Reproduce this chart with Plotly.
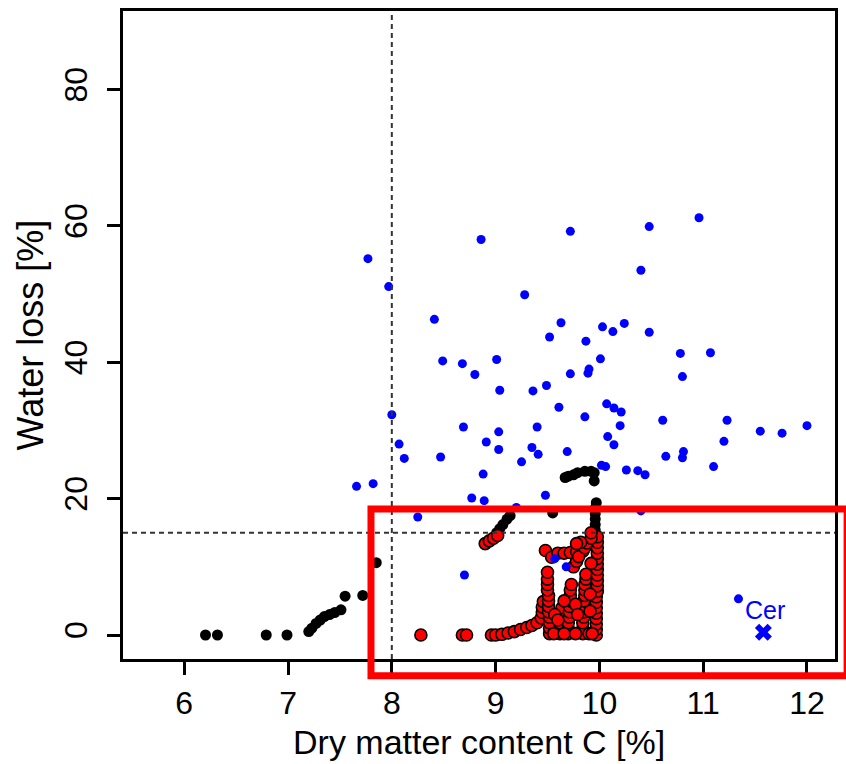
import plotly.graph_objects as go

# Samples above the water-loss threshold (blue)
blue_x = [7.77, 8.86, 9.72, 7.97, 9.28, 8.41, 9.63, 10.03, 10.13, 10.24,
          9.52, 9.87, 8.49, 8.68, 9.01, 8.80, 10.01, 9.72, 9.90, 9.89,
          9.04, 9.36, 9.49, 9.61, 9.86, 10.07, 10.14, 10.21, 8.00, 8.69,
          9.03, 9.40, 10.20, 8.07, 8.91, 9.03, 9.35, 9.41, 9.69, 10.08,
          10.14, 8.12, 8.47, 9.25, 8.88, 10.02, 10.06, 10.26, 7.66, 7.82,
          9.48, 8.77, 8.89, 8.25, 9.20, 10.96, 10.48, 10.40, 10.48, 10.78,
          11.07, 10.80, 10.61, 11.23, 11.55, 11.76, 12.00, 11.20, 10.64, 10.81,
          10.80, 10.37, 10.44, 11.10, 10.40, 8.70, 9.57, 9.68, 11.34]
blue_y = [55.2, 58.0, 59.2, 51.1, 49.9, 46.3, 45.8, 45.2, 44.5, 45.7,
          43.7, 43.1, 40.2, 39.8, 40.4, 38.2, 40.5, 38.3, 39.0, 38.4,
          35.9, 35.8, 36.6, 33.4, 32.0, 33.9, 33.3, 32.7, 32.3, 30.5,
          29.8, 30.5, 30.7, 28.0, 28.3, 27.2, 27.5, 26.5, 26.9, 29.1,
          27.9, 25.9, 26.1, 25.4, 23.6, 24.9, 24.7, 24.2, 21.8, 22.2,
          20.5, 20.1, 19.7, 17.3, 18.7, 61.2, 59.9, 53.5, 44.4, 41.3,
          41.4, 37.9, 31.5, 31.5, 29.9, 29.6, 30.7, 28.4, 26.2, 26.9,
          26.0, 24.1, 23.5, 24.7, 18.2, 8.8, 11.2, 10.0, 5.3]

# Drying trajectories (black)
black_x = [6.205, 6.32, 6.79, 6.99, 7.20, 7.23, 7.27, 7.31, 7.35, 7.40,
           7.45, 7.51, 7.55, 7.72, 7.85,
           9.01, 9.04, 9.07, 9.11, 9.14, 9.55,
           9.67, 9.70, 9.75, 9.79, 9.86, 9.92, 9.95, 9.95,
           9.97, 9.96, 9.96, 9.96, 9.96, 9.96]
black_y = [0.0, 0.0, 0.0, 0.0, 0.5, 1.0, 1.7, 2.2, 2.7, 3.0,
           3.3, 3.7, 5.7, 5.8, 10.6,
           15.0, 15.6, 16.2, 17.0, 17.5, 17.9,
           23.1, 23.3, 23.5, 23.8, 24.0, 24.0, 23.8, 22.6,
           19.4, 18.6, 17.8, 17.0, 16.2, 15.4]

# Selected samples (red, outlined)
red_x = [8.28, 8.68, 8.72, 8.96, 9.00,
         8.90, 8.94, 8.98, 9.02,
         9.06, 9.12, 9.18, 9.24, 9.30, 9.35, 9.40, 9.44,
         9.45, 9.45, 9.46,
         9.52, 9.52, 9.52, 9.52, 9.51, 9.51, 9.51, 9.51, 9.50, 9.50, 9.50, 9.50,
         9.48, 9.54,
         9.60, 9.66, 9.72, 9.78, 9.84,
         9.62, 9.62, 9.62, 9.63, 9.63, 9.64,
         9.70, 9.70, 9.70, 9.71, 9.71, 9.71, 9.72, 9.72, 9.72, 9.73,
         9.84, 9.84, 9.84, 9.85, 9.85, 9.85, 9.85, 9.86, 9.86, 9.86, 9.87, 9.87,
         9.97, 9.97, 9.97, 9.97, 9.97, 9.97, 9.97, 9.97, 9.98, 9.98, 9.98, 9.98,
         9.98, 9.98, 9.98, 9.98, 9.98, 9.98, 9.98,
         9.56, 9.66, 9.77, 9.90, 9.93,
         9.75, 9.78, 9.80, 9.86, 9.88, 9.92, 9.92, 9.82, 9.78, 9.92,
         9.57, 9.60, 9.66, 9.77, 9.79, 9.91, 9.91]
red_y = [0.0, 0.0, 0.0, 0.0, 0.0,
         13.4, 13.8, 14.2, 14.6,
         0.1, 0.3, 0.5, 0.8, 1.1, 1.4, 1.8, 2.5,
         3.3, 4.1, 4.9,
         0.2, 1.0, 1.8, 2.6, 3.4, 4.2, 5.0, 5.8, 6.6, 7.4, 8.2, 9.2,
         12.4, 11.4,
         12.0, 12.0, 12.1, 12.2, 12.3,
         0.2, 1.0, 1.8, 2.6, 3.4, 4.0,
         0.2, 1.0, 1.8, 2.6, 3.4, 4.2, 5.0, 5.8, 6.6, 7.4,
         0.2, 1.0, 1.8, 2.6, 3.4, 4.2, 5.0, 5.8, 6.6, 7.4, 8.2, 8.9,
         0.0, 0.8, 1.6, 2.4, 3.2, 4.0, 4.8, 5.6, 6.4, 7.2, 8.0, 8.8,
         9.6, 10.4, 11.2, 12.0, 12.8, 13.6, 14.4,
         0.2, 0.2, 0.2, 0.2, 0.2,
         10.0, 10.8, 11.5, 12.8, 13.5, 14.2, 15.0, 13.6, 13.4, 10.5,
         3.0, 2.2, 5.0, 4.5, 3.0, 6.0, 3.5]

# Reference sample
cer_x = [11.58]
cer_y = [0.4]
cer_label = "Cer"

x_ticks = [6, 7, 8, 9, 10, 11, 12]
y_ticks = [0, 20, 40, 60, 80]
c_threshold = 8
loss_threshold = 15

FONT = "Liberation Sans, Arial, Helvetica, sans-serif"

fig = go.Figure()

fig.add_trace(go.Scatter(
    x=black_x, y=black_y, mode="markers",
    marker=dict(color="black", size=11), hoverinfo="skip"))
fig.add_trace(go.Scatter(
    x=red_x, y=red_y, mode="markers",
    marker=dict(color="#ff0000", size=12, line=dict(color="black", width=1.6)),
    hoverinfo="skip"))
fig.add_trace(go.Scatter(
    x=blue_x, y=blue_y, mode="markers",
    marker=dict(color="#0000ff", size=9), hoverinfo="skip"))
fig.add_trace(go.Scatter(
    x=cer_x, y=cer_y, mode="markers",
    marker=dict(color="#0000ff", size=15, symbol="x"), hoverinfo="skip"))

# threshold lines
fig.add_shape(type="line", xref="x", yref="y", x0=c_threshold, x1=c_threshold,
              y0=-3.52, y1=91.52, line=dict(color="#333333", width=2, dash="5px,4px"))
fig.add_shape(type="line", xref="x", yref="y", x0=5.41, x1=12.27,
              y0=loss_threshold, y1=loss_threshold,
              line=dict(color="#333333", width=2, dash="5px,4px"))

# highlight box around the selected region
fig.add_shape(type="rect", xref="paper", yref="paper",
              x0=0.3483, x1=1.017, y0=-0.026, y1=0.2315,
              line=dict(color="#ff0000", width=7), fillcolor="rgba(0,0,0,0)")

fig.add_annotation(x=11.6, y=3.6, xref="x", yref="y", text=cer_label,
                   showarrow=False, font=dict(family=FONT, size=25, color="#0000ff"))

# axis titles
fig.add_annotation(x=0.5, y=-0.160, xref="paper", yref="paper",
                   text="Dry matter content C [%]", showarrow=False,
                   xanchor="center", yanchor="bottom",
                   font=dict(family=FONT, size=34, color="black"))
fig.add_annotation(x=-0.130, y=0.5, xref="paper", yref="paper",
                   text="Water loss [%]", showarrow=False, textangle=-90,
                   xanchor="center", yanchor="middle",
                   font=dict(family=FONT, size=36, color="black"))

axis_common = dict(showgrid=False, zeroline=False, showline=True, mirror=True,
                   linecolor="black", linewidth=3, ticks="outside", ticklen=13,
                   tickwidth=2.5, tickcolor="black",
                   tickfont=dict(family=FONT, size=32, color="black"))

fig.update_xaxes(range=[5.41, 12.27], tickvals=x_ticks,
                 ticktext=[str(v) for v in x_ticks], ticklabelstandoff=1,
                 **axis_common)
fig.update_yaxes(range=[-3.52, 91.52], tickvals=y_ticks,
                 ticktext=[str(v) for v in y_ticks], tickangle=-90,
                 ticklabelstandoff=7, **axis_common)

fig.update_layout(width=846, height=764, showlegend=False,
                  margin=dict(l=123, r=8, t=10, b=105),
                  paper_bgcolor="white", plot_bgcolor="white")

fig.write_html("out.html")
